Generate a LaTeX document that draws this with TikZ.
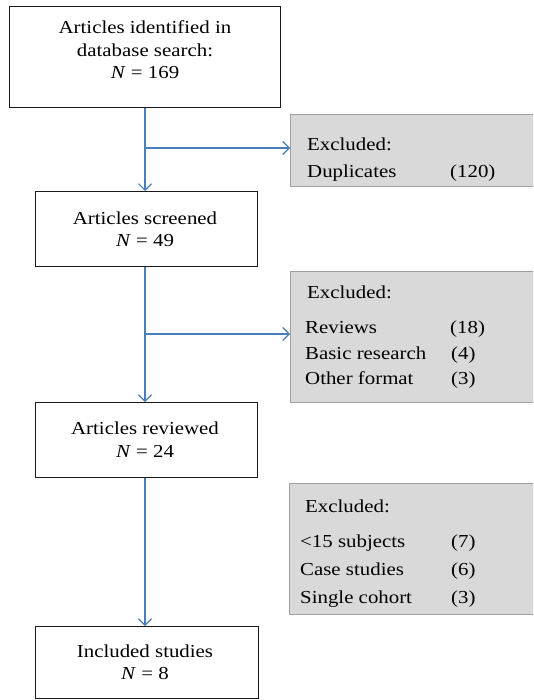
\documentclass[tikz,border=0pt]{standalone}
\usepackage{fontspec}
\setmainfont[FakeStretch=1.14]{Liberation Serif}
\usetikzlibrary{arrows.meta}
\definecolor{flowblue}{HTML}{4A7EBB}
\definecolor{exfill}{HTML}{D9D9D9}
\definecolor{exdraw}{HTML}{A0A0A0}
\tikzset{
  mainbox/.style={draw=black!90, line width=1.2pt, fill=white, inner sep=0pt, anchor=north west},
  exbox/.style={draw=exdraw, line width=1.1pt, fill=exfill, inner sep=0pt, anchor=north west},
  txt/.style={inner sep=0pt, font=\fontsize{18.3}{22}\selectfont},
  ctxt/.style={txt, anchor=base},
  ltxt/.style={txt, anchor=base west},
  flow/.style={draw=flowblue, line width=1.1pt, -{Straight Barb[length=6.5pt,width=13pt]}},
}
\begin{document}
\begin{tikzpicture}[x=1pt,y=-1pt]
\useasboundingbox (0,0) rectangle (533,700);
\clip (0,0) rectangle (533,700);
% main boxes
\node[mainbox, minimum width=271pt, minimum height=101pt] (b1) at (9,6) {};
\node[mainbox, minimum width=222pt, minimum height=75pt] (b2) at (34.5,191) {};
\node[mainbox, minimum width=222pt, minimum height=75pt] (b3) at (34.5,402) {};
\node[mainbox, minimum width=223pt, minimum height=72pt] (b4) at (34.5,626) {};
% excluded boxes
\node[exbox, minimum width=260pt, minimum height=72pt] (g1) at (290,114) {};
\node[exbox, minimum width=260pt, minimum height=131pt] (g2) at (290,271) {};
\node[exbox, minimum width=260pt, minimum height=131pt] (g3) at (288.5,483) {};
% main texts
\node[ctxt] (t1a) at (145,34) {Articles identified in};
\node[ctxt] (t1b) at (145,56.5) {database search:};
\node[ctxt] (t1c) at (145,79) {\textit{N} = 169};
\node[ctxt] (t2a) at (145,225) {Articles screened};
\node[ctxt] (t2b) at (145,247) {\textit{N} = 49};
\node[ctxt] (t3a) at (145,434) {Articles reviewed};
\node[ctxt] (t3b) at (145,457) {\textit{N} = 24};
\node[ctxt] (t4a) at (145,657) {Included studies};
\node[ctxt] (t4b) at (145,679) {\textit{N} = 8};
% excluded texts
\node[ltxt] (e1) at (307,151) {Excluded:};
\node[ltxt] (e1a) at (307,178) {Duplicates};
\node[ltxt] (e1b) at (450,178) {(120)};
\node[ltxt] (e2) at (307,298) {Excluded:};
\node[ltxt] (e2a) at (305,333) {Reviews};
\node[ltxt] (e2b) at (450,333) {(18)};
\node[ltxt] (e2c) at (305,359) {Basic research};
\node[ltxt] (e2d) at (451,359) {(4)};
\node[ltxt] (e2e) at (305,384) {Other format};
\node[ltxt] (e2f) at (451,384) {(3)};
\node[ltxt] (e3) at (305,512) {Excluded:};
\node[ltxt] (e3a) at (300,547) {<15 subjects};
\node[ltxt] (e3b) at (451,547) {(7)};
\node[ltxt] (e3c) at (300,575) {Case studies};
\node[ltxt] (e3d) at (451,575) {(6)};
\node[ltxt] (e3e) at (300,603) {Single cohort};
\node[ltxt] (e3f) at (451,603) {(3)};
% connectors
\coordinate (j1) at (145,148);
\coordinate (j2) at (145,334);
\draw[flow] (b1.south -| j1) -- (b2.north -| j1);
\draw[flow] (j1) -- (g1.west |- j1);
\draw[flow] (b2.south -| j2) -- (b3.north -| j2);
\draw[flow] (j2) -- (g2.west |- j2);
\draw[flow] (b3.south -| j2) -- (b4.north -| j2);
\end{tikzpicture}
\end{document}
